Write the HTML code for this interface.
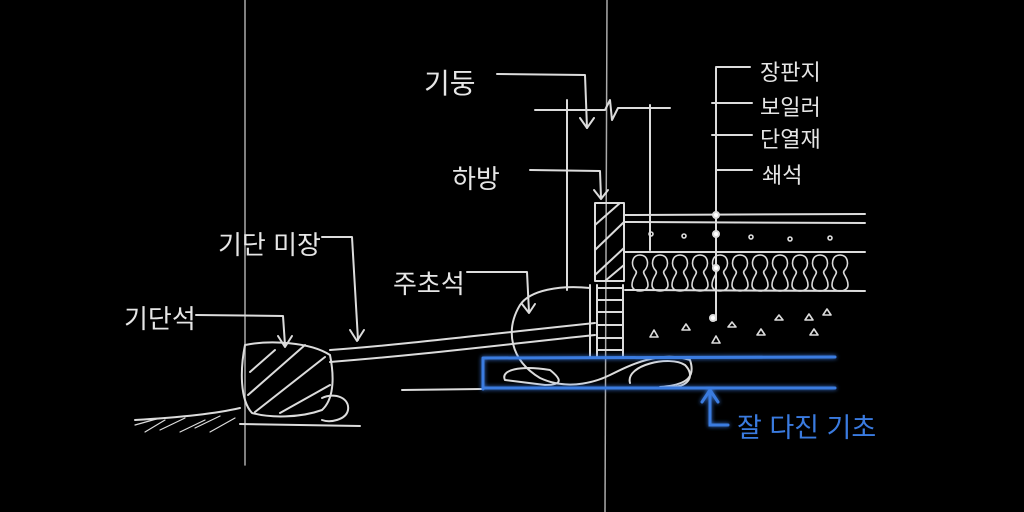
<!DOCTYPE html>
<html><head><meta charset="utf-8"><style>
html,body{margin:0;padding:0;background:#000;}
svg{display:block}
text{font-family:"Liberation Sans","Noto Sans CJK KR","NanumGothic",sans-serif;fill:#e6e6e6;}
</style></head><body>
<svg width="1024" height="512" viewBox="0 0 1024 512" xmlns="http://www.w3.org/2000/svg">
<defs>
<filter id="glow" x="-10%" y="-50%" width="120%" height="200%"><feGaussianBlur stdDeviation="2" result="b"/><feMerge><feMergeNode in="b"/><feMergeNode in="SourceGraphic"/></feMerge></filter>
<g id="loop"><path d="M0 0 C-8 0 -10 10 -4 16 C-2 19 -8 22 -8 30 C-8 38 8 38 8 30 C8 22 2 19 4 16 C10 10 8 0 0 0 Z"/></g>
</defs>
<rect width="1024" height="512" fill="#000"/>
<g stroke="#dcdcdc" stroke-width="2" fill="none" stroke-linecap="round" stroke-linejoin="round">
<path d="M607 0 L605 512" stroke-width="1.5" stroke="#aaa"/>
<path d="M245 0 L245 465" stroke-width="1.5" stroke="#aaa"/>
<path d="M497 74 L585 75 L587 128"/><path d="M580 118 L587 128 L594 118"/>
<path d="M535 110 L605 110 L610 100 L612 120 L618 108 L670 108"/>
<path d="M567 100 L567 290"/><path d="M650 105 L650 250"/>
<path d="M530 170 L600 171 L601 198"/><path d="M594 190 L601 199 L608 190"/>
<rect x="595" y="203" width="29" height="78"/>
<path d="M595 225 L620 203 M595 250 L624 222 M595 275 L624 248 M605 281 L624 265"/>
<path d="M597 285 L597 357 M623 285 L623 357"/>
<path d="M597 288 L623 288 M597 300 L623 300 M597 312 L623 312 M597 325 L623 325 M597 338 L623 338 M597 350 L623 350"/>
<path d="M590 285 L590 357"/>
<path d="M625 215 L865 214 M625 222 L865 223 M625 252 L865 252 M625 290 L865 291"/>
<g stroke-width="1.6">
<use href="#loop" x="640" y="255"/><use href="#loop" x="660" y="255"/><use href="#loop" x="680" y="255"/><use href="#loop" x="700" y="255"/><use href="#loop" x="720" y="255"/><use href="#loop" x="740" y="255"/><use href="#loop" x="760" y="255"/><use href="#loop" x="780" y="255"/><use href="#loop" x="800" y="255"/><use href="#loop" x="820" y="255"/><use href="#loop" x="840" y="255"/>
</g>
<path d="M716 68 L716 320"/>
<path d="M716 67 L750 67 M712 103 L752 103 M712 135 L752 135 M716 170 L752 170"/>
<g stroke-width="1.6">
<circle cx="651" cy="234" r="2"/><circle cx="684" cy="236" r="2"/><circle cx="751" cy="237" r="2"/><circle cx="790" cy="239" r="2"/><circle cx="830" cy="238" r="2"/>
<path d="M650 337 l4 -7 l4 7z M682 330 l4 -6 l4 6z M712 343 l4 -7 l4 7z M728 327 l4 -5 l4 5z M757 335 l4 -6 l4 6z M775 320 l4 -5 l4 5z M805 320 l4 -6 l4 6z M823 315 l4 -6 l4 6z M810 335 l4 -6 l4 6z"/>
</g>
<circle cx="716" cy="215" r="3" fill="#fff"/><circle cx="716" cy="234" r="3" fill="#fff"/><circle cx="716" cy="268" r="3" fill="#fff"/><circle cx="713" cy="318" r="3" fill="#fff"/>
<path d="M467 272 L527 272 L529 312"/><path d="M522 304 L529 313 L535 304"/>
<path d="M590 288 C560 285 530 290 520 305 C505 330 510 360 540 378 C570 392 600 380 610 375 C630 365 660 350 690 360 C695 375 690 385 660 387"/>
<path d="M505 380 C500 370 520 365 550 370 C560 378 565 385 545 385 Z"/>
<path d="M630 383 C625 365 670 355 685 365 C695 375 690 387 670 387"/>
<path d="M330 350 C400 345 480 335 595 323 M330 362 C420 355 500 345 595 335"/>
<path d="M322 237 L352 237 L358 340"/><path d="M350 330 L357 341 L364 330"/>
<path d="M196 315 L283 316 L285 345"/><path d="M278 336 L285 347 L292 336"/>
<path d="M245 345 C270 340 310 342 330 355 C335 380 333 400 322 410 C300 418 270 418 252 413 C240 400 240 370 245 345 Z"/>
<path d="M250 372 L275 350 M248 395 L305 345 M255 412 L325 357 M280 413 L330 385"/>
<path d="M322 398 C335 392 350 398 348 410 C346 420 330 423 322 420"/>
<path d="M135 420 C170 418 210 415 240 408 M240 424 L360 426"/>
<path d="M135 425 L160 418 M145 432 L165 420 M160 430 L185 418 M180 432 L205 420 M195 428 L220 416 M210 432 L235 418" stroke-width="1.2"/>
<path d="M402 390 L482 389"/>
</g>
<g stroke="#3a7be0" stroke-width="3" fill="none" stroke-linecap="round" filter="url(#glow)">
<path d="M483 358 L835 357 M483 388 L835 388 M483 358 L483 389"/>
<path d="M710 390 L710 425 L728 425"/><path d="M702 402 L710 390 L718 402"/>
</g>
<text x="424" y="93" font-size="28">기둥</text>
<text x="452" y="188" font-size="26">하방</text>
<text x="393" y="293" font-size="26">주초석</text>
<text x="218" y="254" font-size="26">기단 미장</text>
<text x="124" y="328" font-size="26">기단석</text>
<text x="760" y="80" font-size="22">장판지</text>
<text x="760" y="115" font-size="22">보일러</text>
<text x="760" y="147" font-size="22">단열재</text>
<text x="762" y="183" font-size="22">쇄석</text>
<text x="737" y="437" font-size="27" style="fill:#3a7be0">잘 다진 기초</text>
</svg>
</body></html>
